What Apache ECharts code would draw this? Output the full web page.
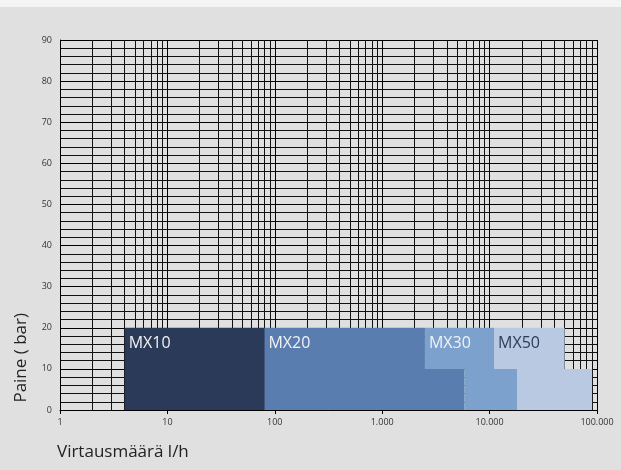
<!DOCTYPE html>
<html>
<head>
    <meta charset="utf-8">
    <title>Virtausmäärä / Paine</title>
    <script src="https://cdn.jsdelivr.net/npm/echarts@6/dist/echarts.min.js"></script>
    <style>
        html, body { margin: 0; padding: 0; background: #f4f4f4; }
        #main { position: absolute; left: 0; top: 7px; width: 621px; height: 463px; background: #e0e0e0; }
    </style>
</head>
<body>
    <div id="main"></div>
    <script>
        // mallit ja niiden toiminta-alueet (l/h, bar)
        const models = ['MX10', 'MX20', 'MX30', 'MX50'];
        const flowStartHigh = [4, 80, 2500, 11000];     // alkuvirtaus, 10-20 bar
        const flowEndHigh = [80, 2500, 11000, 50000];   // maksimivirtaus 20 bar
        const flowStartLow = [4, 80, 5800, 18000];      // alkuvirtaus, 0-10 bar
        const flowEndLow = [80, 5800, 18000, 90000];    // maksimivirtaus 10 bar
        const pressureMax = 20;
        const pressureStep = 10;
        const colors = ['#2a3a58', '#5a7db0', '#7ca1cc', '#b8c9e1'];
        const textColors = ['#f2f2f2', '#f2f2f2', '#f2f2f2', '#2c3c5c'];

        const xTickLabels = ['1', '10', '100', '1.000', '10.000', '100.000'];
        const decades = [1, 10, 100, 1000, 10000];
        const minorMult = [2, 3, 4, 5, 6, 7, 8, 9];

        const chart = echarts.init(document.getElementById('main'));

        const minorLines = [];
        decades.forEach(d => minorMult.forEach(m => minorLines.push({ xAxis: d * m })));

        const series = models.map((name, i) => ({
            name: name,
            type: 'custom',
            silent: true,
            z: 5,
            encode: { x: [0, 1], y: [2, 3] },
            data: [
                [flowStartLow[i], flowEndLow[i], 0, pressureStep, 0],
                [flowStartHigh[i], flowEndHigh[i], pressureStep, pressureMax, 1]
            ],
            renderItem: function (params, api) {
                const p0 = api.coord([api.value(0), api.value(3)]);
                const p1 = api.coord([api.value(1), api.value(2)]);
                const rect = { x: p0[0], y: p0[1], width: p1[0] - p0[0], height: p1[1] - p0[1] };
                const children = [{ type: 'rect', shape: rect, style: { fill: colors[i] } }];
                if (api.value(4) === 1) {
                    children.push({
                        type: 'text',
                        style: {
                            x: p0[0] + 4, y: p0[1] + 16, text: name,
                            fill: textColors[i], font: '16px "Open Sans", sans-serif',
                            verticalAlign: 'middle'
                        }
                    });
                }
                return { type: 'group', children: children };
            }
        }));

        // pystysuorat apuviivat logaritmiasteikolle
        series.push({
            type: 'line',
            data: [],
            silent: true,
            z: 2,
            markLine: {
                silent: true,
                symbol: 'none',
                label: { show: false },
                animation: false,
                lineStyle: { color: '#111', width: 1, type: 'solid' },
                data: minorLines
            }
        });

        chart.setOption({
            animation: false,
            backgroundColor: '#e0e0e0',
            grid: { left: 60, right: 24, top: 33, bottom: 60 },
            xAxis: {
                type: 'log',
                logBase: 10,
                min: 1,
                max: 100000,
                axisLine: { lineStyle: { color: '#000' } },
                axisTick: { show: true, length: 4, lineStyle: { color: '#000' } },
                axisLabel: {
                    fontSize: 9, color: '#333', margin: 8,
                    fontFamily: 'Open Sans',
                    formatter: v => xTickLabels[Math.round(Math.log10(v))]
                },
                splitLine: { show: true, lineStyle: { color: '#000' } }
            },
            yAxis: {
                type: 'value',
                min: 0,
                max: 90,
                interval: 10,
                axisLine: { show: true, lineStyle: { color: '#000' } },
                axisTick: { show: false },
                axisLabel: { fontSize: 9, color: '#333', margin: 8, fontFamily: 'Open Sans' },
                splitLine: { show: true, lineStyle: { color: '#000' } },
                minorTick: { show: false, splitNumber: 5 },
                minorSplitLine: { show: true, lineStyle: { color: '#111' } }
            },
            graphic: [
                {
                    type: 'text', left: 13, top: 306, rotation: Math.PI / 2,
                    style: { text: 'Paine ( bar)', font: '17px "Open Sans", sans-serif', fill: '#222' }
                },
                {
                    type: 'text', left: 57, top: 437,
                    style: { text: 'Virtausmäärä l/h', font: '17px "Open Sans", sans-serif', fill: '#222' }
                }
            ],
            series: series
        });
    </script>
</body>
</html>
